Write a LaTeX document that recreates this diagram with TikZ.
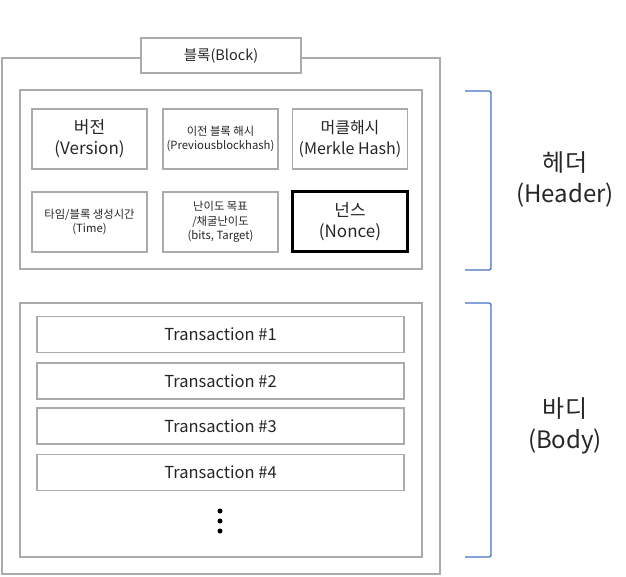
\documentclass[tikz,border=0pt]{standalone}
\usepackage{fontspec}
\setmainfont{Noto Sans CJK KR}
\definecolor{boxgray}{HTML}{ABABAB}
\definecolor{txt}{HTML}{262626}
\definecolor{brblue}{HTML}{4472C4}
\begin{document}
\begin{tikzpicture}[x=1pt,y=-1pt,
  gbox/.style={draw=boxgray, line width=1.4pt, rectangle, inner sep=0pt, text=txt, align=center},
  cell/.style={gbox, minimum width=115pt, minimum height=60pt},
  txbox/.style={gbox, minimum width=367pt, minimum height=36pt, font=\fontsize{16.5}{19}\selectfont},
  bigtxt/.style={font=\fontsize{17}{21}\selectfont},
  smalltxt/.style={font=\fontsize{11.3}{14.5}\selectfont},
  sidelabel/.style={text=txt, align=center, font=\fontsize{24}{31}\selectfont},
  bracket/.style={draw=brblue, line width=1.3pt, rounded corners=2pt},
  dot/.style={circle, fill=black, inner sep=0pt, minimum size=5pt}
]
\useasboundingbox (0,0) rectangle (626,577);
% outer block
\node[gbox, minimum width=438pt, minimum height=516pt] (block) at (221,316) {};
\node[gbox, fill=white, minimum width=160pt, minimum height=35pt, font=\fontsize{14.5}{17}\selectfont] (blocklbl) at (221,55.5) {블록(Block)};
% header
\node[gbox, minimum width=402pt, minimum height=179pt] (header) at (221,179.5) {};
\node[cell, bigtxt] (ver) at (89.5,139) {버전\\(Version)};
\node[cell, smalltxt] (prev) at (220.5,139) {이전 블록 해시\\(Previousblockhash)};
\node[cell, font=\fontsize{16}{21}\selectfont] (merkle) at (350,139) {머클해시\\(Merkle Hash)};
\node[cell, smalltxt] (time) at (89.5,222) {타임/블록 생성시간\\(Time)};
\node[cell, smalltxt] (bits) at (220.5,222) {난이도 목표\\/채굴난이도\\(bits, Target)};
\node[cell, draw=black, line width=3pt, bigtxt] (nonce) at (350,222) {넌스\\(Nonce)};
% body
\node[gbox, minimum width=402pt, minimum height=254pt] (body) at (221,430) {};
\node[txbox] (t1) at (220.5,334.5) {Transaction \#1};
\node[txbox] (t2) at (220.5,381) {Transaction \#2};
\node[txbox] (t3) at (220.5,426) {Transaction \#3};
\node[txbox] (t4) at (220.5,472.5) {Transaction \#4};
\node[dot] (d1) at (220,511) {};
\node[dot] (d2) at (220,521) {};
\node[dot] (d3) at (220,531) {};
% brackets
\coordinate (hb1) at (465,91);
\coordinate (hb2) at (491,91);
\coordinate (hb3) at (491,270);
\coordinate (hb4) at (465,270);
\draw[bracket] (hb1) -- (hb2) -- (hb3) -- (hb4);
\coordinate (bb1) at (465,303);
\coordinate (bb2) at (491,303);
\coordinate (bb3) at (491,557);
\coordinate (bb4) at (465,557);
\draw[bracket] (bb1) -- (bb2) -- (bb3) -- (bb4);
\node[sidelabel] (hlbl) at (565,179) {헤더\\(Header)};
\node[sidelabel] (blbl) at (565,426) {바디\\(Body)};
\end{tikzpicture}
\end{document}
